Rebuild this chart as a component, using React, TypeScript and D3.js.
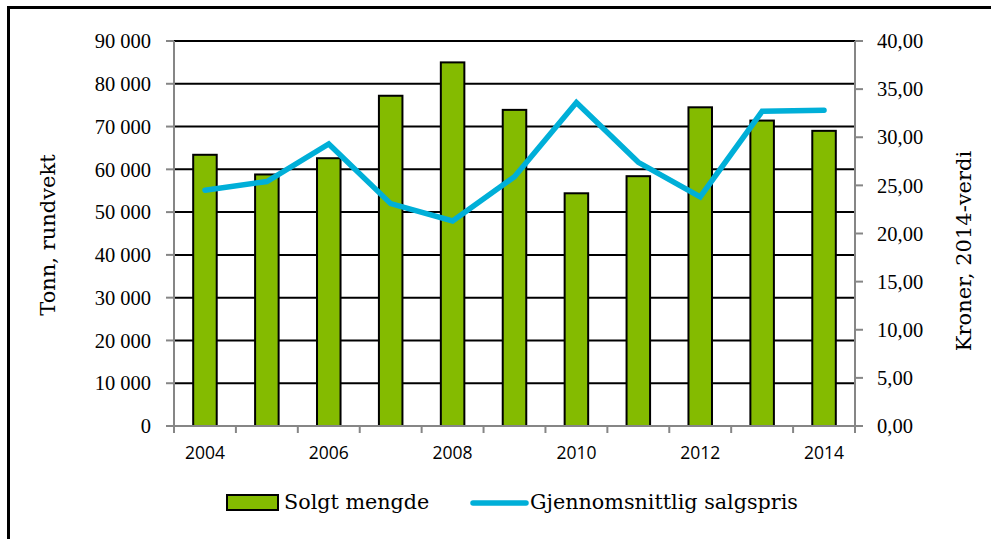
import React from "react";
import * as d3 from "d3";

const years = ["2004","2005","2006","2007","2008","2009","2010","2011","2012","2013","2014"];
const solgtMengde = [63400, 58800, 62600, 77200, 85000, 73900, 54400, 58400, 74500, 71400, 69000];
const salgspris = [24.5, 25.4, 29.3, 23.1, 21.3, 25.9, 33.6, 27.4, 23.8, 32.7, 32.8];
const leftTicks = [0,10000,20000,30000,40000,50000,60000,70000,80000,90000];
const rightTicks = [0,5,10,15,20,25,30,35,40];
const xLabelYears = ["2004","2006","2008","2010","2012","2014"];

const W = 991, H = 539;
const L = 174, R = 855, T = 41, B = 426;
const GREEN = "#84BB00";
const BLUE = "#00AFD8";
const NUMFONT = "'Liberation Serif', serif";
const TXTFONT = "'DejaVu Serif', serif";
const SANS = "'Open Sans', sans-serif";

const fmtLeft = (v: number) => d3.format(",")(v).replace(/,/g, " ");
const fmtRight = (v: number) => v.toFixed(2).replace(".", ",");

export default function App() {
  const x = d3.scaleBand<string>().domain(years).range([L, R]).paddingInner(0).paddingOuter(0);
  const yL = d3.scaleLinear().domain([0, 90000]).range([B, T]);
  const yR = d3.scaleLinear().domain([0, 40]).range([B, T]);
  const bw = x.bandwidth() * 0.38;
  const line = d3.line<number>()
    .x((_, i) => (x(years[i]) as number) + x.bandwidth() / 2)
    .y((d) => yR(d));
  const boundaries = years.map((y) => x(y) as number).concat([R]);

  return (
    <svg width={W} height={H} style={{ position: "fixed", left: 0, top: 0, background: "#fff" }}>
      <rect x={0} y={0} width={W} height={H} fill="#fff" />
      <rect x={8.5} y={7.5} width={1100} height={700} fill="none" stroke="#000" strokeWidth={3} />
      {leftTicks.filter((t) => t > 0).map((t) => (
        <line key={t} x1={L} x2={R} y1={yL(t)} y2={yL(t)} stroke="#000" strokeWidth={2} />
      ))}
      {solgtMengde.map((v, i) => {
        const cx = (x(years[i]) as number) + x.bandwidth() / 2;
        return (
          <rect key={i} x={cx - bw / 2} y={yL(v)} width={bw} height={B - yL(v)}
            fill={GREEN} stroke="#000" strokeWidth={2} />
        );
      })}
      <line x1={L} x2={L} y1={T} y2={B} stroke="#868686" strokeWidth={2} />
      <line x1={R} x2={R} y1={T} y2={B} stroke="#868686" strokeWidth={2} />
      <line x1={L - 8} x2={R + 8} y1={B} y2={B} stroke="#868686" strokeWidth={2} />
      {leftTicks.map((t) => (
        <g key={t}>
          <line x1={L - 8} x2={L} y1={yL(t)} y2={yL(t)} stroke="#868686" strokeWidth={2} />
          <text x={151} y={yL(t)} dy="0.35em" textAnchor="end" fontFamily={NUMFONT} fontSize={20.5} fill="#000">{fmtLeft(t)}</text>
        </g>
      ))}
      {rightTicks.map((t) => (
        <g key={t}>
          <line x1={R} x2={R + 8} y1={yR(t)} y2={yR(t)} stroke="#868686" strokeWidth={2} />
          <text x={877} y={yR(t)} dy="0.35em" textAnchor="start" fontFamily={NUMFONT} fontSize={20.5} fill="#000">{fmtRight(t)}</text>
        </g>
      ))}
      {boundaries.map((bx, i) => (
        <line key={i} x1={bx} x2={bx} y1={B} y2={B + 7} stroke="#868686" strokeWidth={2} />
      ))}
      {xLabelYears.map((yr) => (
        <text key={yr} x={(x(yr) as number) + x.bandwidth() / 2} y={459} textAnchor="middle"
          fontFamily={SANS} fontSize={17.5} fill="#000">{yr}</text>
      ))}
      <path d={line(salgspris) || ""} fill="none" stroke={BLUE} strokeWidth={5.5} strokeLinecap="round" strokeLinejoin="miter" />
      <text transform={`translate(55,235) rotate(-90)`} textAnchor="middle" fontFamily={TXTFONT} fontSize={21} fill="#000">Tonn, rundvekt</text>
      <text transform={`translate(971,251) rotate(-90)`} textAnchor="middle" fontFamily={TXTFONT} fontSize={21} fill="#000">Kroner, 2014-verdi</text>
      <rect x={227} y={495} width={51} height={15} fill={GREEN} stroke="#000" strokeWidth={2} />
      <text x={284} y={509} fontFamily={TXTFONT} fontSize={20.7} fill="#000">Solgt mengde</text>
      <line x1={473} x2={526} y1={503} y2={503} stroke={BLUE} strokeWidth={5.5} strokeLinecap="round" />
      <text x={530} y={509} fontFamily={TXTFONT} fontSize={20.7} fill="#000">Gjennomsnittlig salgspris</text>
    </svg>
  );
}
